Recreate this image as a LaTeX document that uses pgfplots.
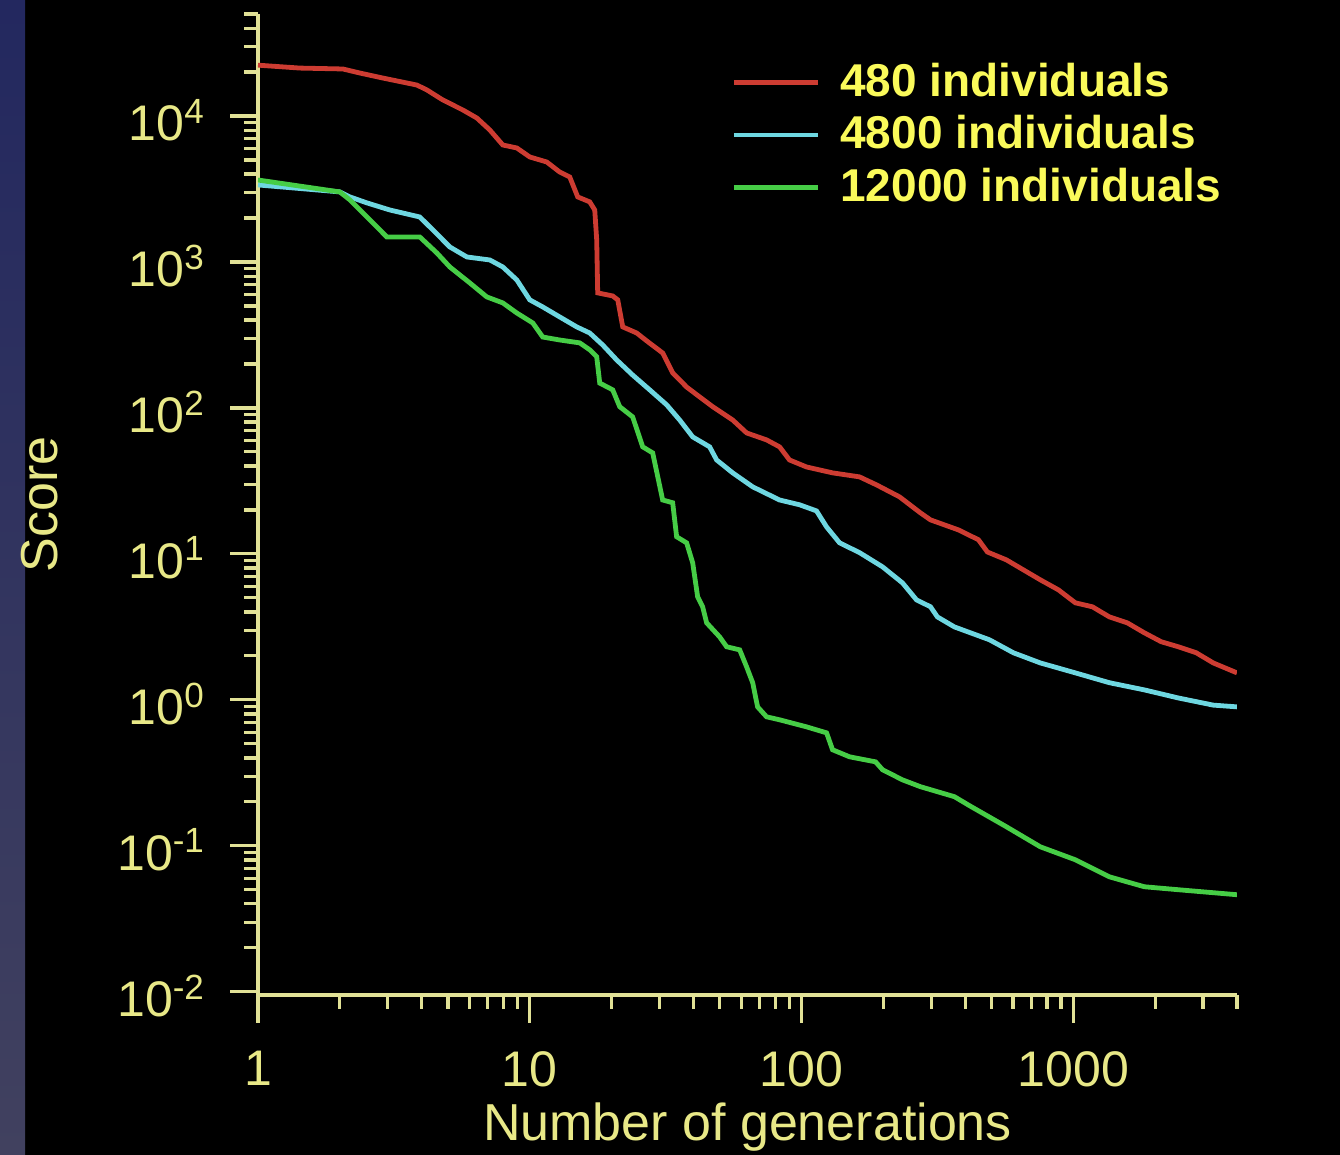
\documentclass[border=0pt]{standalone}
\usepackage{fontspec}
\setmainfont{Liberation Sans}
\usepackage{pgfplots}
\usepackage{pgfplotstable}
\pgfplotsset{compat=1.18}
\definecolor{axyel}{RGB}{225,225,150}
\definecolor{lblyel}{RGB}{232,232,135}
\definecolor{legyel}{RGB}{250,250,90}
\definecolor{cred}{RGB}{205,60,50}
\definecolor{ccyan}{RGB}{110,215,225}
\definecolor{cgreen}{RGB}{70,205,70}
\definecolor{stripA}{RGB}{35,40,95}
\definecolor{stripB}{RGB}{65,65,95}

\pgfplotstableread{
x y
1 22300
1.427 21300
2.053 21000
2.371 19700
2.882 18200
3.842 16300
4.18 15100
4.787 12880
5.67 11000
6.386 9690
7.13 8020
7.96 6330
8.96 6040
10.0 5240
11.55 4840
12.89 4130
14.03 3820
15.01 2790
16.62 2580
17.34 2270
17.63 1415
17.78 614
20.19 585
21.07 550
21.98 359
24.74 326
26.92 288
30.83 238
33.56 174
37.77 139
42.17 119
47.09 102
55.77 82.7
62.8 67.4
74.35 60.4
83.0 54.1
90.3 44.0
104.3 39.4
130 35.9
163.4 33.7
188.7 29.7
229.2 24.6
273.8 19.1
298.1 17.1
377.7 14.6
447.4 12.5
482.8 10.3
567 9.1
655 7.77
756 6.64
881 5.67
1017 4.62
1175 4.34
1357 3.70
1579 3.37
1824 2.88
2106 2.50
2432 2.31
2834 2.10
3271 1.79
4000 1.53
}\redtab

\pgfplotstableread{
x y
1 3370
2.0 3020
2.18 2790
2.516 2540
3.058 2270
3.94 2033
4.40 1657
5.08 1267
5.87 1082
7.13 1032
7.96 924
8.96 753
10 550
11.16 492
12.89 420
14.89 359
16.62 326
18.55 270
20.89 213
23.91 168
27.62 133
31.89 105
35.6 82.7
39.76 63.3
45.9 54.1
48.7 44.0
55.8 35.9
66.1 28.8
83.0 23.4
98.3 21.7
113.5 19.7
123.6 15.3
138 11.9
163.4 10.2
198.6 8.15
235.1 6.33
264.8 4.84
298.1 4.34
316 3.70
365 3.16
491 2.58
602 2.10
756 1.79
1017 1.53
1357 1.31
1824 1.17
2432 1.03
3271 0.92
4000 0.895
}\cyantab

\pgfplotstableread{
x y
1 3645
2.0 3020
2.18 2660
2.516 2033
2.98 1483
3.94 1483
4.55 1153
5.08 924
6.02 718
6.95 576
7.96 524
8.96 447
10.26 382
11.16 306
12.89 292
15.27 279
16.62 250
17.63 224
18.09 148
20.19 133
21.42 102
23.91 86.8
26.03 54.1
28.33 49.2
30.83 23.4
33.56 22.4
34.7 13.1
37.77 11.9
39.76 8.68
41.46 5.08
43.25 4.34
44.74 3.37
49.94 2.70
53.0 2.31
59.2 2.20
62.8 1.68
66.1 1.31
68.9 0.895
74.35 0.765
83.0 0.73
104.3 0.653
123.6 0.594
130 0.455
150.2 0.407
187.2 0.376
198.6 0.332
235.1 0.283
273.8 0.254
365 0.217
421.7 0.185
567 0.135
756 0.0984
1017 0.0802
1357 0.0613
1824 0.0524
2432 0.050
3271 0.0477
4000 0.0462
}\greentab

\begin{document}
\begin{tikzpicture}
\path[use as bounding box, fill=black] (-64.5pt,-40pt) rectangle (270.5pt,248.75pt);
\shade[top color=stripA, bottom color=stripB] (-64.5pt,-40pt) rectangle (-58.2pt,248.75pt);
\begin{axis}[
  scale only axis,
  width=244.75pt, height=245.25pt,
  xmode=log, ymode=log,
  xmin=1, xmax=4000, ymin=0.0095, ymax=50000,
  axis x line*=bottom, axis y line*=left,
  axis line style={axyel, line width=0.8pt, -},
  tick style={axyel, line width=0.8pt},
  tick align=outside,
  major tick length=7pt, minor tick length=3.5pt,
  xtick={1,10,100,1000}, xticklabels={1,10,100,1000},
  minor xtick={2,3,4,5,6,7,8,9,20,30,40,50,60,70,80,90,200,300,400,500,600,700,800,900,2000,3000,4000},
  ytick={0.01,0.1,1,10,100,1000,10000},
  yticklabels={10\textsuperscript{-2},10\textsuperscript{-1},10\textsuperscript{0},10\textsuperscript{1},10\textsuperscript{2},10\textsuperscript{3},10\textsuperscript{4}},
  minor ytick={0.02,0.03,0.04,0.05,0.06,0.07,0.08,0.09,0.2,0.3,0.4,0.5,0.6,0.7,0.8,0.9,2,3,4,5,6,7,8,9,20,30,40,50,60,70,80,90,200,300,400,500,600,700,800,900,2000,3000,4000,5000,6000,7000,8000,9000,20000,30000,40000,50000},
  /pgf/number format/assume math mode=true,
  ticklabel style={font=\fontsize{12.5}{14}\selectfont, text=lblyel},
  xticklabel style={yshift=-3.5pt},
  yticklabel style={xshift=-2.5pt, yshift=-1pt},
  xlabel={Number of generations}, ylabel={Score},
  label style={font=\fontsize{13}{15}\selectfont, text=lblyel},
  xlabel style={at={(axis description cs:0.5,-0.1346)}, anchor=center},
  ylabel style={at={(axis description cs:-0.2227,0.5)}, anchor=center},
  legend style={at={(axis description cs:0.995,0.961)}, anchor=north east,
    draw=none, fill=none, inner sep=0pt,
    font=\bfseries\fontsize{11.5}{13}\selectfont, text=legyel,
    row sep=-1.75pt,
    nodes={inner sep=2.5pt}},
  legend cell align=left,
  legend image code/.code={\draw[#1] (0pt,0pt) -- (21pt,0pt); \path (23.5pt,0pt);},
]
\addplot[cred, line width=1.2pt] table {\redtab};
\addlegendentry{480 individuals}
\addplot[ccyan, line width=1.2pt] table {\cyantab};
\addlegendentry{4800 individuals}
\addplot[cgreen, line width=1.2pt] table {\greentab};
\addlegendentry{12000 individuals}
\end{axis}
\end{tikzpicture}
\end{document}
